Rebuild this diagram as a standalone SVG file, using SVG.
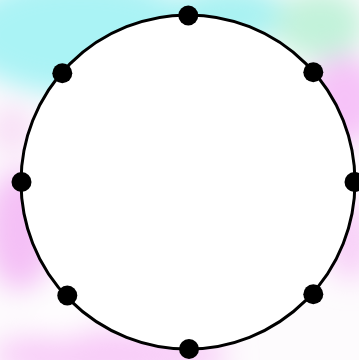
<svg xmlns="http://www.w3.org/2000/svg" width="359" height="360" viewBox="0 0 359 360">
<defs>
<filter id="blur" x="-50%" y="-50%" width="200%" height="200%"><feGaussianBlur stdDeviation="14"/></filter>
<style>
.ring{fill:#fff;stroke:#000;stroke-width:3}
.dot{fill:#000}
</style>
</defs>
<rect width="359" height="360" fill="#fdfbfd"/>
<g filter="url(#blur)">
<ellipse cx="80" cy="35" rx="120" ry="60" fill="#aaf3f5"/>
<ellipse cx="230" cy="15" rx="60" ry="30" fill="#a8f2f2"/>
<ellipse cx="320" cy="25" rx="45" ry="35" fill="#c2f2da"/>
<ellipse cx="345" cy="100" rx="40" ry="45" fill="#f6c2f8"/>
<ellipse cx="12" cy="130" rx="22" ry="25" fill="#f8def6"/>
<ellipse cx="20" cy="230" rx="35" ry="60" fill="#f4c0f6"/>
<ellipse cx="110" cy="355" rx="120" ry="25" fill="#f8ccf8"/>
<ellipse cx="350" cy="240" rx="25" ry="40" fill="#f8d0f8"/>
<ellipse cx="60" cy="320" rx="30" ry="18" fill="#ffffff"/>
</g>
<g id="ring"><circle class="ring" cx="188" cy="182" r="167"/></g>
<g id="n1"><circle class="dot" cx="188.3" cy="15.5" r="10"/></g>
<g id="n2"><circle class="dot" cx="313.3" cy="72.3" r="10"/></g>
<g id="n3"><circle class="dot" cx="354.5" cy="182" r="10"/></g>
<g id="n4"><circle class="dot" cx="313.3" cy="294.3" r="10"/></g>
<g id="n5"><circle class="dot" cx="189" cy="349" r="10"/></g>
<g id="n6"><circle class="dot" cx="67.3" cy="295.5" r="10"/></g>
<g id="n7"><circle class="dot" cx="21.5" cy="182" r="10"/></g>
<g id="n8"><circle class="dot" cx="62.3" cy="73.3" r="10"/></g>
</svg>
